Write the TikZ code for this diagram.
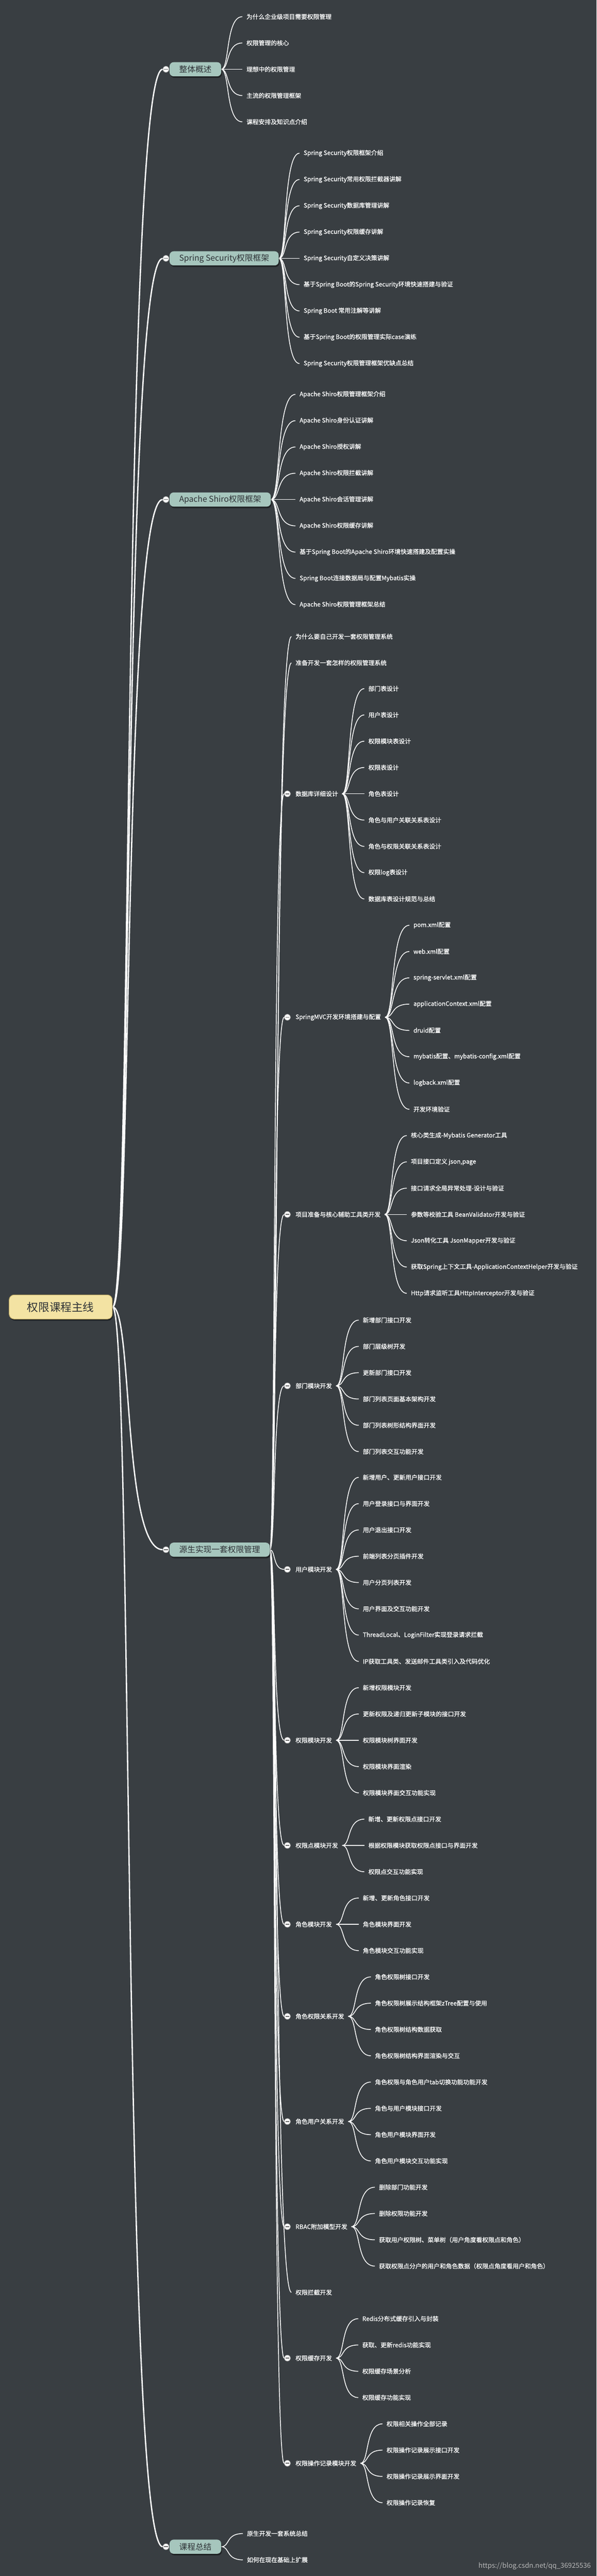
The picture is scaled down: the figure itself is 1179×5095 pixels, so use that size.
\documentclass[tikz,border=0pt]{standalone}
\usepackage{fontspec}
\setmainfont{Noto Sans CJK SC}
\newfontfamily\leaff[FakeBold=0.9]{Noto Sans CJK SC}
\usetikzlibrary{calc,shadows}
\pgfdeclarelayer{back}
\pgfdeclarelayer{lines}
\pgfsetlayers{back,lines,main}
\definecolor{mmbg}{HTML}{393E42}
\definecolor{boxg}{HTML}{A6C6BD}
\definecolor{boxtxt}{HTML}{2E3236}
\definecolor{rootfill}{HTML}{F3E3A3}
\definecolor{rootdraw}{HTML}{B8A460}
\definecolor{knobbar}{HTML}{6A6A6A}
\definecolor{knobdraw}{HTML}{A0A0A0}
\definecolor{wmgray}{HTML}{B9B9B9}
\newcommand\mmlink[3][mmline]{%
  \begin{pgfonlayer}{lines}%
  \draw[#1] (#2) .. controls ($(#2)!0.4!(#3 |- #2)$) and ($(#2 |- #3)!0.2!(#3)$) .. (#3);%
  \end{pgfonlayer}}
\newcommand\mmkids[5]{%
  \foreach \mmtxt [count=\mmk from 0] in {#5}{%
    \node[leaf] (#2\mmk) at ({#3-8},{#4+52*\mmk}) {\mmtxt};
    \mmlink{#1}{#2\mmk.west}
  }}
\begin{document}
\begin{tikzpicture}[x=1pt,y=-1pt,
  mmline/.style={draw=white,line width=1.5pt},
  rootline/.style={draw=white,line width=2.6pt},
  leaf/.style={anchor=west,text=white,font=\leaff\fontsize{12}{14}\selectfont,inner xsep=8pt,inner ysep=2pt},
  mainbox/.style={anchor=west,fill=boxg,text=boxtxt,rounded corners=8pt,font=\fontsize{16}{19}\selectfont,
    minimum height=28pt,inner xsep=19pt,inner ysep=3pt,
    drop shadow={shadow xshift=1.5pt,shadow yshift=-3pt,opacity=0.45,fill=black}},
  rootbox/.style={fill=rootfill,draw=rootdraw,line width=1pt,text=boxtxt,rounded corners=10pt,
    font=\fontsize{22}{26}\selectfont,minimum width=204pt,minimum height=48pt,
    drop shadow={shadow xshift=1.5pt,shadow yshift=-3pt,opacity=0.45,fill=black}},
  knob/.style={circle,fill=white,draw=knobdraw,line width=0.8pt,minimum size=12pt,inner sep=0pt,
    path picture={\draw[knobbar,line width=1.8pt] ([xshift=-3.8pt]path picture bounding box.center) -- ([xshift=3.8pt]path picture bounding box.center);}}
]
\begin{pgfonlayer}{back}
\fill[mmbg] (0,0) rectangle (1179,5095);
\end{pgfonlayer}
\useasboundingbox (0,0) rectangle (1179,5095);

% root
\node[rootbox] (root) at (120,2585) {权限课程主线};

% main branches
\node[mainbox] (b1) at (335,137) {整体概述};
\node[mainbox] (b2) at (335,511) {Spring Security权限框架};
\node[mainbox] (b3) at (335,988) {Apache Shiro权限框架};
\node[mainbox] (b4) at (335,3065) {源生实现一套权限管理};
\node[mainbox] (b5) at (335,5037) {课程总结};
\foreach \mmy [count=\mmk] in {137,511,988,3065,5037} {\node[knob] (k\mmk) at (328,\mmy) {};}
\foreach \mmk in {1,...,5} {\mmlink[rootline]{root.east}{k\mmk.west}}

% children of main branches
\mmkids{b1.east}{ov}{487}{33}{为什么企业级项目需要权限管理,权限管理的核心,理想中的权限管理,主流的权限管理框架,课程安排及知识点介绍}
\mmkids{b2.east}{ss}{600}{303}{Spring Security权限框架介绍,Spring Security常用权限拦截器讲解,Spring Security数据库管理讲解,Spring Security权限缓存讲解,Spring Security自定义决策讲解,基于Spring Boot的Spring Security环境快速搭建与验证,Spring Boot 常用注解等讲解,基于Spring Boot的权限管理实际case演练,Spring Security权限管理框架优缺点总结}
\mmkids{b3.east}{sh}{592}{780}{Apache Shiro权限管理框架介绍,Apache Shiro身份认证讲解,Apache Shiro授权讲解,Apache Shiro权限拦截讲解,Apache Shiro会话管理讲解,Apache Shiro权限缓存讲解,基于Spring Boot的Apache Shiro环境快速搭建及配置实操,Spring Boot连接数据局与配置Mybatis实操,Apache Shiro权限管理框架总结}
\mmkids{b5.east}{sum}{488}{5011}{原生开发一套系统总结,如何在现在基础上扩展}

% level-1 items of 源生实现一套权限管理
\node[leaf] (s1) at (576,1259) {为什么要自己开发一套权限管理系统};
\node[leaf] (s2) at (576,1311) {准备开发一套怎样的权限管理系统};
\node[leaf] (s3) at (576,1570) {数据库详细设计};
\node[leaf] (s4) at (576,2012) {SpringMVC开发环境搭建与配置};
\node[leaf] (s5) at (576,2402) {项目准备与核心辅助工具类开发};
\node[leaf] (s6) at (576,2741) {部门模块开发};
\node[leaf] (s7) at (576,3104) {用户模块开发};
\node[leaf] (s8) at (576,3442) {权限模块开发};
\node[leaf] (s9) at (576,3650) {权限点模块开发};
\node[leaf] (s10) at (576,3806) {角色模块开发};
\node[leaf] (s11) at (576,3988) {角色权限关系开发};
\node[leaf] (s12) at (576,4196) {角色用户关系开发};
\node[leaf] (s13) at (576,4404) {RBAC附加模型开发};
\node[leaf] (s14) at (576,4534) {权限拦截开发};
\node[leaf] (s15) at (576,4664) {权限缓存开发};
\node[leaf] (s16) at (576,4872) {权限操作记录模块开发};
\foreach \mmk in {3,...,13,15,16} {\node[knob] (n\mmk) at ([xshift=-8pt]s\mmk.west) {};}
\mmlink{b4.east}{s1.west}
\mmlink{b4.east}{s2.west}
\mmlink{b4.east}{s14.west}
\foreach \mmk in {3,...,13,15,16} {\mmlink{b4.east}{n\mmk.west}}

% grandchildren
\mmkids{s3.east}{db}{728}{1362}{部门表设计,用户表设计,权限模块表设计,权限表设计,角色表设计,角色与用户关联关系表设计,角色与权限关联关系表设计,权限log表设计,数据库表设计规范与总结}
\mmkids{s4.east}{mvc}{817}{1830}{pom.xml配置,web.xml配置,spring-servlet.xml配置,applicationContext.xml配置,druid配置,mybatis配置、mybatis-config.xml配置,logback.xml配置,开发环境验证}
\mmkids{s5.east}{prep}{812}{2246}{核心类生成-Mybatis Generator工具,{项目接口定义 json,page},接口请求全局异常处理-设计与验证,参数等校验工具 BeanValidator开发与验证,Json转化工具 JsonMapper开发与验证,获取Spring上下文工具-ApplicationContextHelper开发与验证,Http请求监听工具HttpInterceptor开发与验证}
\mmkids{s6.east}{dept}{717}{2611}{新增部门接口开发,部门层级树开发,更新部门接口开发,部门列表页面基本架构开发,部门列表树形结构界面开发,部门列表交互功能开发}
\mmkids{s7.east}{user}{717}{2922}{新增用户、更新用户接口开发,用户登录接口与界面开发,用户退出接口开发,前端列表分页插件开发,用户分页列表开发,用户界面及交互功能开发,ThreadLocal、LoginFilter实现登录请求拦截,IP获取工具类、发送邮件工具类引入及代码优化}
\mmkids{s8.east}{perm}{717}{3338}{新增权限模块开发,更新权限及递归更新子模块的接口开发,权限模块树界面开发,权限模块界面渲染,权限模块界面交互功能实现}
\mmkids{s9.east}{pp}{728}{3598}{新增、更新权限点接口开发,根据权限模块获取权限点接口与界面开发,权限点交互功能实现}
\mmkids{s10.east}{role}{717}{3754}{新增、更新角色接口开发,角色模块界面开发,角色模块交互功能实现}
\mmkids{s11.east}{rp}{741}{3910}{角色权限树接口开发,角色权限树展示结构框架zTree配置与使用,角色权限树结构数据获取,角色权限树结构界面渲染与交互}
\mmkids{s12.east}{ru}{741}{4118}{角色权限与角色用户tab切换功能功能开发,角色与用户模块接口开发,角色用户模块界面开发,角色用户模块交互功能实现}
\mmkids{s13.east}{rbac}{749}{4326}{删除部门功能开发,删除权限功能开发,获取用户权限树、菜单树（用户角度看权限点和角色）,获取权限点分户的用户和角色数据（权限点角度看用户和角色）}
\mmkids{s15.east}{cache}{716}{4586}{Redis分布式缓存引入与封装,获取、更新redis功能实现,权限缓存场景分析,权限缓存功能实现}
\mmkids{s16.east}{oplog}{764}{4794}{权限相关操作全部记录,权限操作记录展示接口开发,权限操作记录展示界面开发,权限操作记录恢复}

% watermark
\node[anchor=east,text=wmgray,font=\fontsize{13.5}{16}\selectfont,inner sep=0pt] (wm) at (1168,5075) {https://blog.csdn.net/qq\_36925536};
\end{tikzpicture}
\end{document}
